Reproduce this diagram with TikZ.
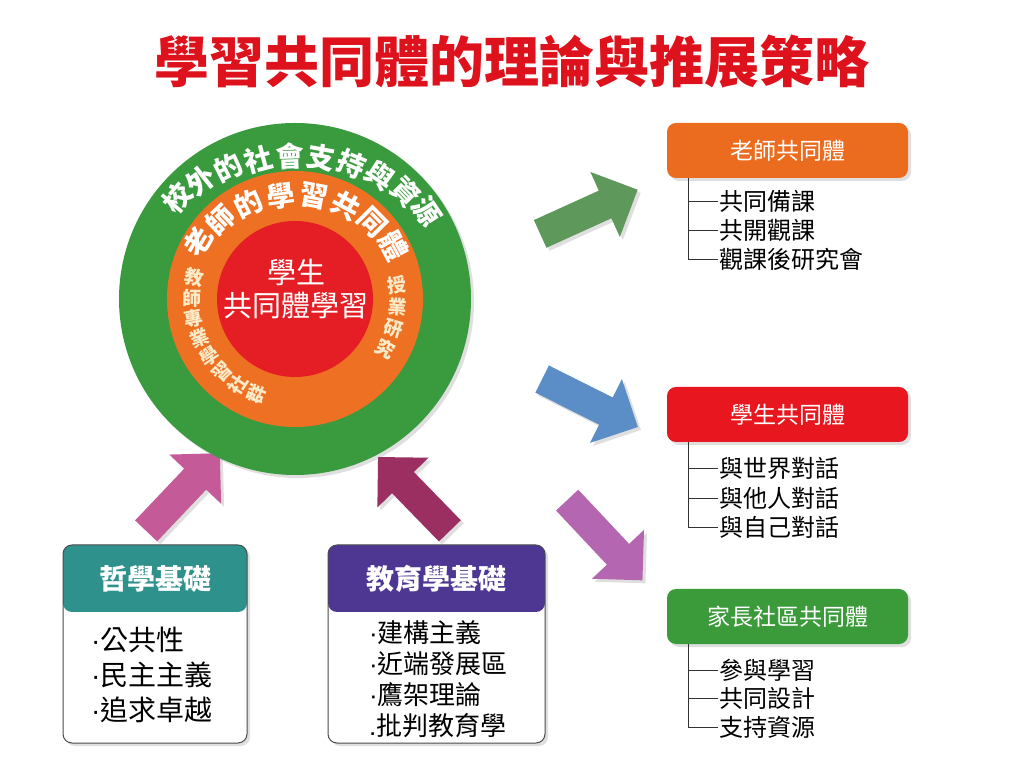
\documentclass[tikz,border=0pt]{standalone}
\usepackage{fontspec}
\setmainfont{Noto Sans CJK TC}
\newfontfamily\latinfont{Liberation Sans}
\newcommand\itemdot{{\latinfont ·}}
\usetikzlibrary{shapes.arrows,shadows,calc}

\definecolor{ringgreen}{RGB}{58,154,62}
\definecolor{ringorange}{RGB}{238,112,34}
\definecolor{ringred}{RGB}{229,30,37}
\definecolor{titlered}{RGB}{222,18,28}
\definecolor{arrgreen}{RGB}{94,152,90}
\definecolor{arrblue}{RGB}{91,142,198}
\definecolor{arrorchid}{RGB}{181,102,176}
\definecolor{arrpink}{RGB}{196,90,152}
\definecolor{arrmaroon}{RGB}{155,47,98}
\definecolor{hdorange}{RGB}{236,108,31}
\definecolor{hdred}{RGB}{232,22,30}
\definecolor{hdgreen}{RGB}{59,154,58}
\definecolor{hdteal}{RGB}{46,145,140}
\definecolor{hdpurple}{RGB}{78,55,147}
\definecolor{cream}{RGB}{250,234,200}

\tikzset{
  softshadow/.style={drop shadow={opacity=.25,shadow xshift=3pt,shadow yshift=-3pt}},
  fatarrow/.style={single arrow, fill=#1, draw=none, inner sep=15pt,
    single arrow head extend=20.5pt, single arrow tip angle=90,
    minimum height=107pt, anchor=tail, softshadow},
  ringchar/.style={inner sep=0pt, text=white, font=\fontsize{28}{28}\selectfont\bfseries},
  sidechar/.style={inner sep=0pt, text=cream, font=\fontsize{19}{19}\selectfont\bfseries},
  hdbox/.style={fill=#1, rounded corners=9pt, minimum width=241pt, minimum height=55pt,
    text=white, font=\fontsize{23}{23}\selectfont, softshadow},
  item/.style={anchor=west, inner sep=1pt, font=\fontsize{24}{24}\selectfont},
  branch/.style={draw=black!80, line width=.8pt},
  basebox/.style={draw=black!70, line width=1pt, fill=white, rounded corners=9pt,
    minimum height=198pt, softshadow,
    path picture={\fill[#1] (path picture bounding box.north west) rectangle ([yshift=-67pt]path picture bounding box.north east);}},
  basehead/.style={text=white, font=\fontsize{28}{28}\selectfont\bfseries},
}

\begin{document}
\begin{tikzpicture}[x=1pt,y=1pt]
\fill[white] (0,0) rectangle (1024,768);
\useasboundingbox (0,0) rectangle (1024,768);

\node[text=titlered, font=\fontsize{55}{55}\selectfont\bfseries] (title) at (512,706) {學習共同體的理論與推展策略};

% arrows
\node[fatarrow=arrpink, rotate=46.5] (fromPhil) at (146,237) {};
\node[fatarrow=arrmaroon, rotate=134.2, minimum height=103pt] (fromEdu) at (450,237) {};
\node[fatarrow=arrgreen, rotate=24.4] (toTeach) at (540,534) {};
\node[fatarrow=arrblue, rotate=-26.6] (toStud) at (542,389) {};
\node[fatarrow=arrorchid, rotate=-46.8, minimum height=110pt] (toPar) at (567,268) {};

% rings
\coordinate (C) at (295,469);
\node[circle, fill=ringgreen, minimum size=352pt, inner sep=0pt, softshadow] (outer) at (C) {};
\node[circle, fill=ringorange, minimum size=256pt, inner sep=0pt] (middle) at (C) {};
\node[circle, fill=ringred, minimum size=156pt, inner sep=0pt] (inner) at (C) {};
\node[text=white, align=center, font=\fontsize{29}{33}\selectfont] (core) at (296,479) {學生\\共同體學習};

\foreach \ch [count=\i from 0] in {校,外,的,社,會,支,持,與,資,源}{
  \pgfmathsetmacro\t{135-\i*10.8}
  \pgfmathsetmacro\rot{atan2(143*sin(\t),167*cos(\t))-90}
  \node[ringchar, rotate=\rot] (out\i) at ($(C)+(\t:167pt and 143pt)$) {\ch};
}
\foreach \ch [count=\i from 0] in {老,師,的,學,習,共,同,體}{
  \pgfmathsetmacro\t{147-\i*16.6}
  \pgfmathsetmacro\rot{atan2(104*sin(\t),115*cos(\t))-90}
  \node[ringchar, rotate=\rot] (mid\i) at ($(C)+(\t:115pt and 104pt)$) {\ch};
}
\foreach \ch [count=\i from 0] in {教,師,專,業,學,習,社,群}{
  \pgfmathsetmacro\t{168+\i*11.4}
  \node[sidechar, rotate=\t-180] (lt\i) at ($(C)+(\t:103pt)$) {\ch};
}
\foreach \ch [count=\i from 0] in {授,業,研,究}{
  \pgfmathsetmacro\t{8-\i*12.3}
  \node[sidechar, rotate=\t] (rt\i) at ($(C)+(\t:103pt)$) {\ch};
}

% right side
\node[hdbox=hdorange] (teach) at (787.5,617.5) {老師共同體};
\node[item] (teach1) at (718,567) {共同備課};
\node[item] (teach2) at (718,538) {共開觀課};
\node[item] (teach3) at (718,509) {觀課後研究會};
\foreach \n in {1,2,3} \draw[branch] ([xshift=22pt]teach.south west) |- (teach\n.west);

\node[hdbox=hdred] (stud) at (787.5,353.5) {學生共同體};
\node[item] (stud1) at (718,300) {與世界對話};
\node[item] (stud2) at (718,270) {與他人對話};
\node[item] (stud3) at (718,241) {與自己對話};
\foreach \n in {1,2,3} \draw[branch] ([xshift=22pt]stud.south west) |- (stud\n.west);

\node[hdbox=hdgreen] (par) at (787.5,151.5) {家長社區共同體};
\node[item] (par1) at (718,98) {參與學習};
\node[item] (par2) at (718,70) {共同設計};
\node[item] (par3) at (718,41) {支持資源};
\foreach \n in {1,2,3} \draw[branch] ([xshift=22pt]par.south west) |- (par\n.west);

% bottom boxes
\node[basebox=hdteal, minimum width=184pt] (phil) at (155,124) {};
\node[basehead] (philT) at (155,189) {哲學基礎};
\node[anchor=west, align=left, inner sep=0pt, font=\fontsize{28}{35}\selectfont] (philL) at (91,93) {\itemdot 公共性\\\itemdot 民主主義\\\itemdot 追求卓越};

\node[basebox=hdpurple, minimum width=217pt] (edu) at (436.5,124) {};
\node[basehead] (eduT) at (436.5,189) {教育學基礎};
\node[anchor=west, align=left, inner sep=0pt, font=\fontsize{26}{31}\selectfont] (eduL) at (369,89) {\itemdot 建構主義\\\itemdot 近端發展區\\\itemdot 鷹架理論\\{\latinfont .}批判教育學};

\end{tikzpicture}
\end{document}
